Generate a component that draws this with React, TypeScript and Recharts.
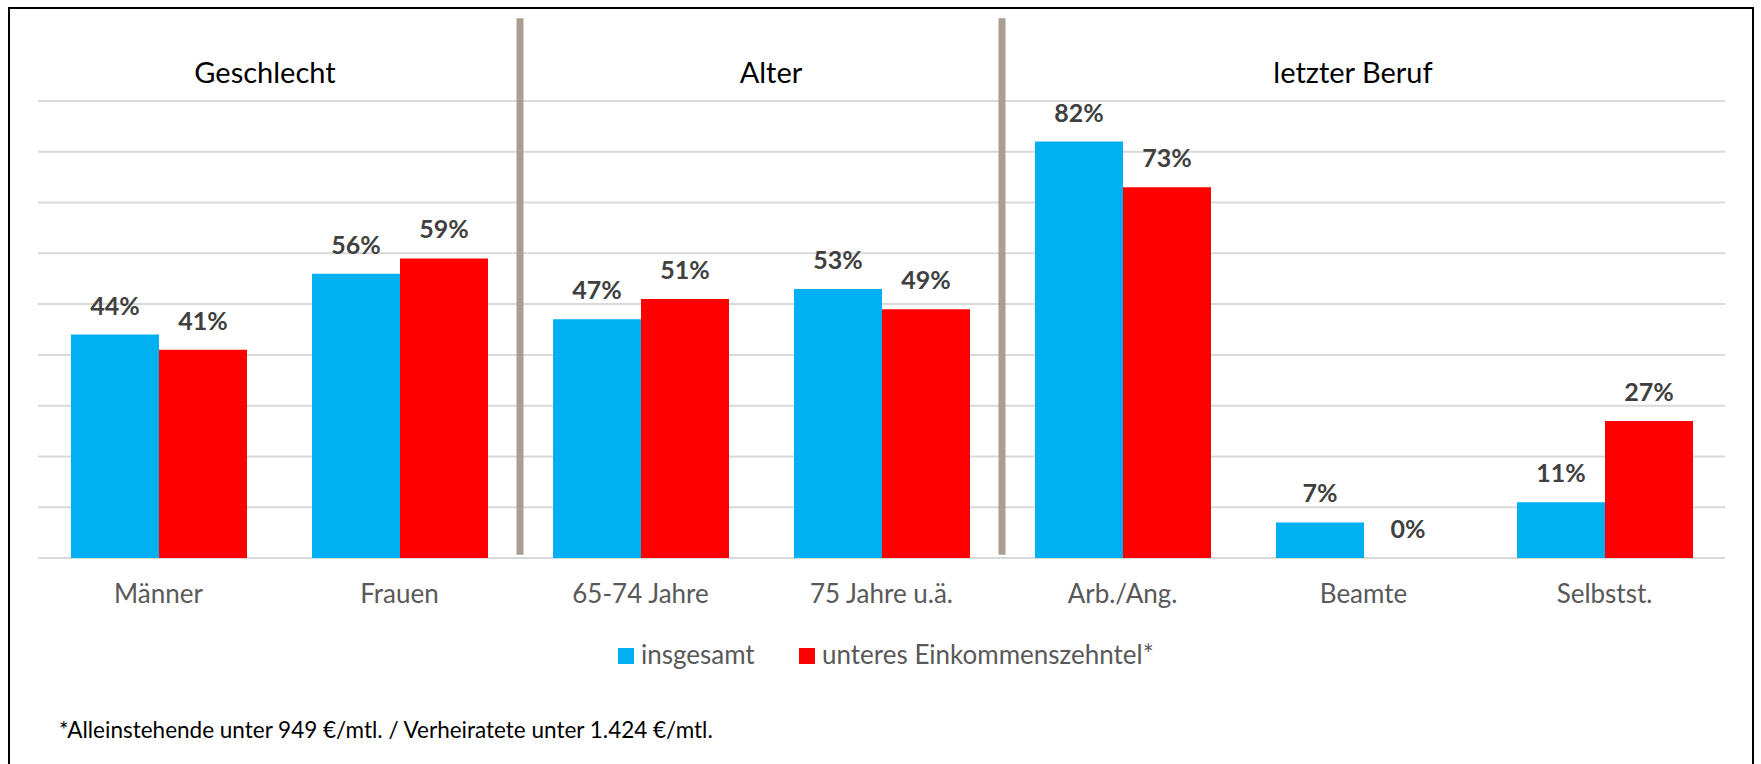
import { BarChart, Bar, XAxis, YAxis, CartesianGrid, LabelList, ReferenceLine } from 'recharts'

// data
const categories = ['Männer', 'Frauen', '65-74 Jahre', '75 Jahre u.ä.', 'Arb./Ang.', 'Beamte', 'Selbstst.']
const insgesamt = [44, 56, 47, 53, 82, 7, 11]
const unteresZehntel = [41, 59, 51, 49, 73, 0, 27]
const yTicks = [0, 10, 20, 30, 40, 50, 60, 70, 80, 90]
const sections = ['Geschlecht', 'Alter', 'letzter Beruf']
const sectionBreaks = [2, 4] // category index where a new group starts
const seriesNames = ['insgesamt', 'unteres Einkommenszehntel*']
const seriesColors = ['#00B0F0', '#FF0000']
const footnote = '*Alleinstehende unter 949 €/mtl. / Verheiratete unter 1.424 €/mtl.'

const W = 1761
const H = 764
const FONT = 'Lato, "Open Sans", sans-serif'
const titleX = [265, 771, 1353]
const yMax = yTicks[yTicks.length - 1]

const data = categories.map((name, i) => ({
  name,
  insgesamt: insgesamt[i],
  unteres: unteresZehntel[i],
}))

const CategoryTick = ({ x, y, payload }: any) => (
  <text x={x} y={y + 45} textAnchor="middle" fill="#595959" fontSize={26} fontFamily={FONT}>
    {payload.value}
  </text>
)

// draws the value even for zero-height bars
const ValueLabel = (props: any) => {
  const { x, y, width, value } = props
  return (
    <text
      x={x + width / 2}
      y={y - 20}
      textAnchor="middle"
      fill="#404040"
      fontSize={25}
      fontWeight="bold"
      fontFamily={FONT}
    >
      {`${value}%`}
    </text>
  )
}

// grid rows at every y tick
const gridRows = (p: any) => {
  const s = p?.yAxis?.scale
  if (typeof s === 'function') return yTicks.map(t => s(t))
  const o = p.offset
  return yTicks.map(t => o.top + o.height * (1 - t / yMax))
}

export default function App() {
  return (
    <div style={{ position: 'absolute', left: 0, top: 0, width: W, height: H, overflow: 'hidden', background: '#fff' }}>
      <div
        style={{
          position: 'absolute',
          left: 8,
          top: 7,
          width: 1746,
          height: 820,
          border: '2px solid #000',
          boxSizing: 'border-box',
        }}
      />
      <div style={{ position: 'absolute', left: 0, top: 0 }}>
        <BarChart
          width={W}
          height={H}
          data={data}
          margin={{ top: 101, right: 36, bottom: 146, left: 38 }}
          barGap={0}
          barSize={88}
        >
          <CartesianGrid vertical={false} stroke="#D9D9D9" strokeWidth={2} horizontalCoordinatesGenerator={gridRows} />
          <XAxis
            dataKey="name"
            height={60}
            axisLine={false}
            tickLine={false}
            tickSize={0}
            tickMargin={0}
            interval={0}
            tick={<CategoryTick />}
          />
          <YAxis
            domain={[0, yMax]}
            ticks={yTicks}
            width={0}
            tick={false}
            axisLine={false}
            tickLine={false}
          />
          {sectionBreaks.map(b => (
            <ReferenceLine
              key={b}
              segment={[{ x: categories[b], y: 0.65 }, { x: categories[b], y: 106.3 }]}
              position="start"
              ifOverflow="visible"
              stroke="#A99E91"
              strokeWidth={7}
            />
          ))}
          <Bar dataKey="insgesamt" name={seriesNames[0]} fill={seriesColors[0]} isAnimationActive={false}>
            <LabelList dataKey="insgesamt" content={<ValueLabel />} />
          </Bar>
          <Bar
            dataKey="unteres"
            name={seriesNames[1]}
            fill={seriesColors[1]}
            isAnimationActive={false}
            minPointSize={(v: number) => (v === 0 ? 0.01 : 0)}
          >
            <LabelList dataKey="unteres" content={<ValueLabel />} />
          </Bar>
        </BarChart>
      </div>
      <svg width={W} height={H} style={{ position: 'absolute', left: 0, top: 0, pointerEvents: 'none' }}>
        {sections.map((s, i) => (
          <text key={s} x={titleX[i]} y={83} textAnchor="middle" fontSize={29} fontFamily={FONT} fill="#000">
            {s}
          </text>
        ))}
        <rect x={618} y={648} width={16} height={16} fill={seriesColors[0]} />
        <text x={641} y={664} fontSize={26} fontFamily={FONT} fill="#595959">
          {seriesNames[0]}
        </text>
        <rect x={799} y={648} width={16} height={16} fill={seriesColors[1]} />
        <text x={822} y={664} fontSize={26} fontFamily={FONT} fill="#595959">
          {seriesNames[1]}
        </text>
        <text x={59} y={738} fontSize={22.5} fontFamily={FONT} fill="#000">
          {footnote}
        </text>
      </svg>
    </div>
  )
}
